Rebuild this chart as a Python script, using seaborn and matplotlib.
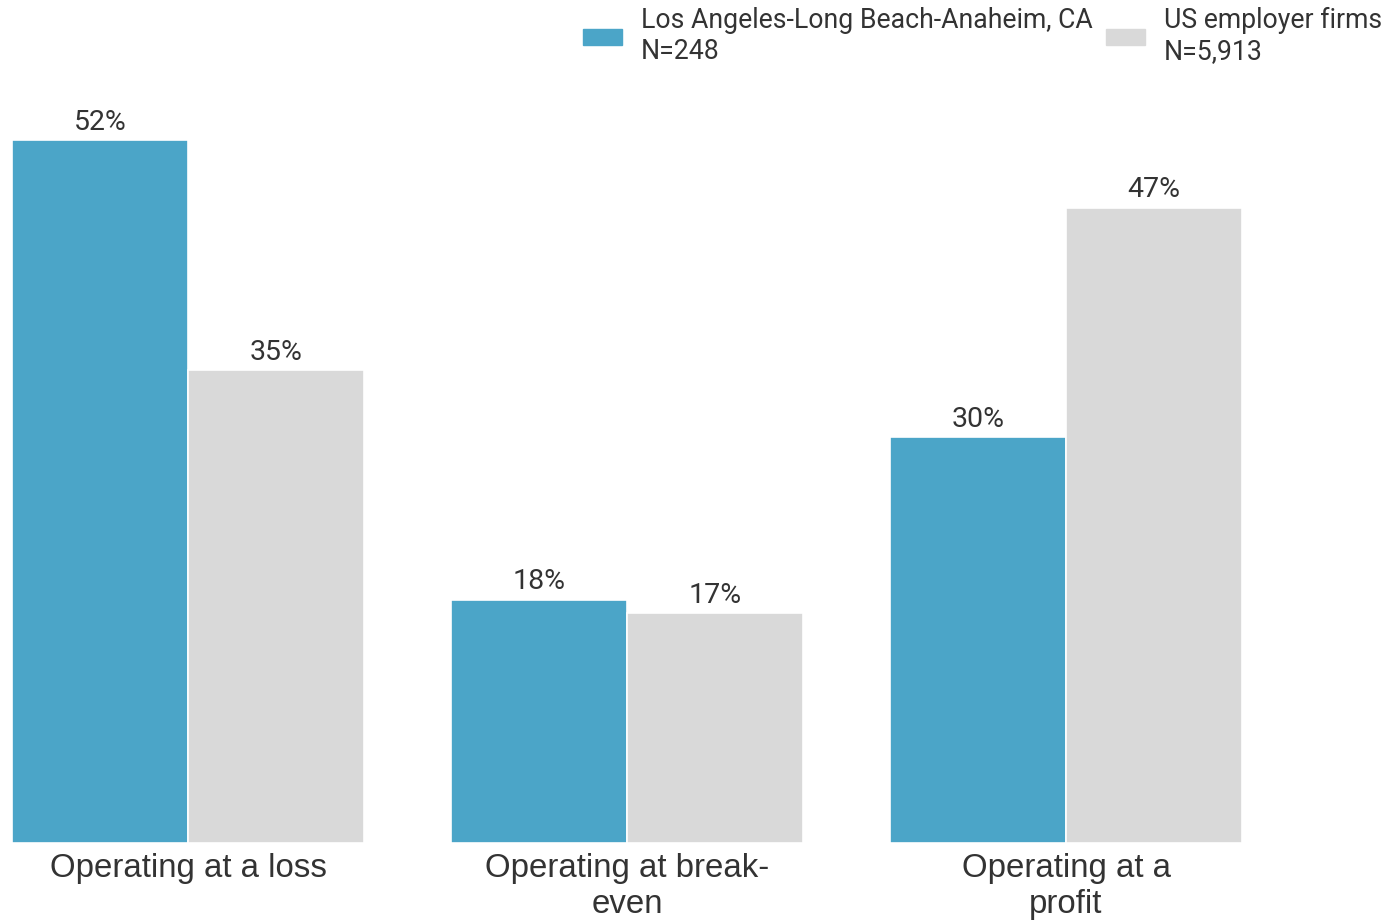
import numpy as np
import pandas as pd
import matplotlib
matplotlib.use("Agg")
import matplotlib.pyplot as plt
import seaborn as sns

categories = ["Operating at a loss", "Operating at break-\neven", "Operating at a\nprofit"]
series_names = ["Los Angeles-Long Beach-Anaheim, CA\nN=248", "US employer firms\nN=5,913"]
la_values = [52, 18, 30]
us_values = [35, 17, 47]
colors = ["#4BA5C8", "#D9D9D9"]

df = pd.DataFrame({
    "category": categories * 2,
    "series": [series_names[0]] * 3 + [series_names[1]] * 3,
    "value": la_values + us_values,
})

sns.set_style("white")
plt.rcParams["font.family"] = ["Roboto", "DejaVu Sans"]

fig = plt.figure(figsize=(13.88, 9.24), dpi=100)
ax = fig.add_axes([0, (924 - 843) / 924, 1, 843 / 924])

sns.barplot(data=df, x="category", y="value", hue="series", palette=colors,
            saturation=1, width=0.8, edgecolor="white", linewidth=1.2, ax=ax)

ax.set_xlim(-188 / 439, (1388 - 188) / 439)
ax.set_ylim(0, 843 / 13.52)

for c in ax.containers:
    ax.bar_label(c, labels=[f"{v:.0f}%" for v in c.datavalues], padding=3,
                 fontsize=20.5, color="#333333", family=["Roboto", "DejaVu Sans"])

ax.set_xlabel("")
ax.set_ylabel("")
ax.set_yticks([])
ax.tick_params(axis="x", length=0, pad=7)
for lbl in ax.get_xticklabels():
    lbl.set_fontfamily(["Liberation Sans", "DejaVu Sans"])
    lbl.set_fontsize(23.8)
    lbl.set_color("#333333")
    lbl.set_linespacing(1.22)
sns.despine(ax=ax, left=True, bottom=True)

ax.get_legend().remove()
handles = [plt.Rectangle((0, 0), 1, 1, color=col) for col in colors]
leg = fig.legend(handles, series_names, loc="upper right",
                 bbox_to_anchor=(1382 / 1388, 1 - 7 / 924), ncol=2, frameon=False,
                 fontsize=19.2, handlelength=1.45, handleheight=0.55,
                 handletextpad=0.72, columnspacing=0.5, borderpad=0, borderaxespad=0)
for t in leg.get_texts():
    t.set_linespacing(1.2)
    t.set_color("#333333")

fig.savefig("out.png", dpi=100)
